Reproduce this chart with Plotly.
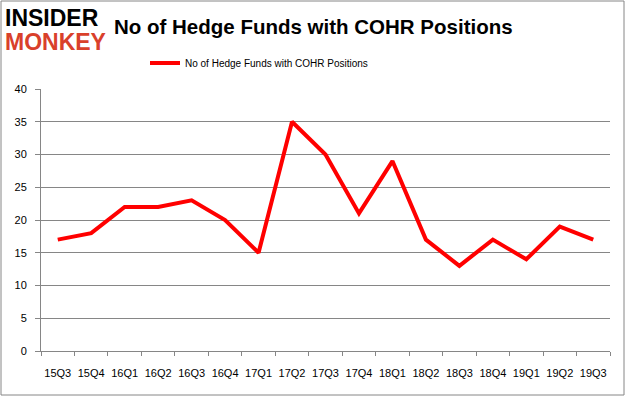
import plotly.graph_objects as go

quarters = ["15Q3", "15Q4", "16Q1", "16Q2", "16Q3", "16Q4", "17Q1", "17Q2", "17Q3",
            "17Q4", "18Q1", "18Q2", "18Q3", "18Q4", "19Q1", "19Q2", "19Q3"]
funds = [17, 18, 22, 22, 23, 20, 15, 35, 30, 21, 29, 17, 13, 17, 14, 19, 17]
y_ticks = [0, 5, 10, 15, 20, 25, 30, 35, 40]
series_name = "No of Hedge Funds with COHR Positions"
title_text = "No of Hedge Funds with COHR Positions"

W, H = 626, 397
l, r, t, b = 41, 16, 89, 46
pw, ph = W - l - r, H - t - b


def px(x):
    return (x - l) / pw


def py(y):
    return (H - b - y) / ph


font_main = "Liberation Sans"

fig = go.Figure()
fig.add_trace(go.Scatter(
    x=quarters, y=funds, mode="lines", name=series_name,
    line=dict(color="#ff0000", width=4),
))

fig.update_layout(
    width=W, height=H,
    margin=dict(l=l, r=r, t=t, b=b, autoexpand=False),
    paper_bgcolor="white", plot_bgcolor="white",
    showlegend=True,
    legend=dict(orientation="h", x=px(145), y=py(63), xanchor="left", yanchor="middle",
                font=dict(family=font_main, size=10, color="#000000"),
                bgcolor="rgba(0,0,0,0)", itemwidth=30),
    xaxis=dict(type="category", tickson="boundaries", ticks="outside", ticklen=4,
               tickcolor="#868686", showline=True, linecolor="#868686", linewidth=1,
               showgrid=False, tickangle=0, automargin=False, ticklabelstandoff=12,
               tickfont=dict(family=font_main, size=11, color="#000000"),
               range=[-0.5, len(quarters) - 0.5]),
    yaxis=dict(range=[0, 40], tickvals=y_ticks, ticks="outside", ticklen=5,
               tickcolor="#868686", showline=True, linecolor="#868686", linewidth=1,
               showgrid=True, gridcolor="#868686", gridwidth=1, zeroline=False,
               automargin=False, ticklabelstandoff=6,
               tickfont=dict(family=font_main, size=11, color="#000000")),
)

fig.add_annotation(text="<b>" + title_text + "</b>", x=px(113), y=py(27), xref="paper", yref="paper",
                   xanchor="left", yanchor="middle", showarrow=False, borderpad=0,
                   font=dict(family=font_main, size=20.5, color="#000000"))
fig.add_annotation(text="<b>INSIDER</b>", x=px(4), y=py(17.5), xref="paper", yref="paper",
                   xanchor="left", yanchor="middle", showarrow=False, borderpad=0,
                   font=dict(family=font_main, size=23, color="#000000"))
fig.add_annotation(text="<b>MONKEY</b>", x=px(4), y=py(41.5), xref="paper", yref="paper",
                   xanchor="left", yanchor="middle", showarrow=False, borderpad=0,
                   font=dict(family=font_main, size=23, color="#d9402b"))

# outer border
fig.add_shape(type="rect", xref="paper", yref="paper", x0=px(1), x1=px(624), y0=py(395), y1=py(1),
              line=dict(color="#868686", width=1), fillcolor="rgba(0,0,0,0)", layer="below")

fig.write_html("out.html", config={"displayModeBar": False},
               post_script="document.body.style.margin='0';")
